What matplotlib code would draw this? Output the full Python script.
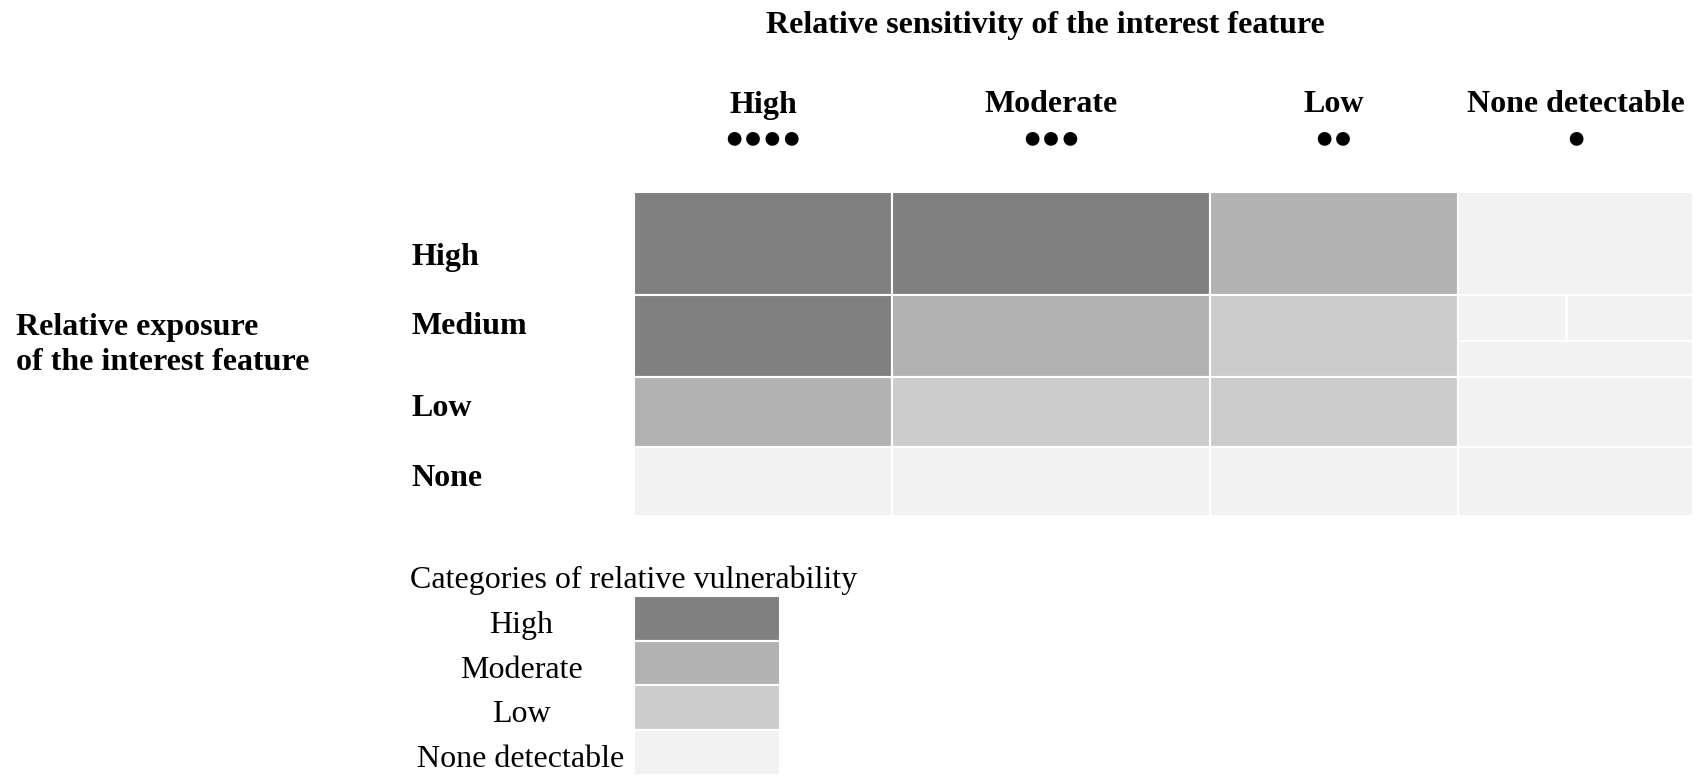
import matplotlib
matplotlib.use("Agg")
import matplotlib.pyplot as plt
from matplotlib.patches import Rectangle

# ---- data ----
exposure_levels = ['High', 'Medium', 'Low', 'None']
sensitivity_levels = ['High', 'Moderate', 'Low', 'None detectable']
sensitivity_dots = ['\u25cf\u25cf\u25cf\u25cf', '\u25cf\u25cf\u25cf', '\u25cf\u25cf', '\u25cf']
categories = ['High', 'Moderate', 'Low', 'None detectable']
category_colors = ['#808080', '#b2b2b2', '#cccccc', '#f2f2f2']
# vulnerability category index for each (exposure row, sensitivity column)
vulnerability = [
    [0, 0, 1, 3],
    [0, 1, 2, 3],
    [1, 2, 2, 3],
    [3, 3, 3, 3],
]

# ---- layout (pixel coordinates) ----
col_edges = [634, 892, 1210, 1458, 1693]
row_edges = [192, 295, 377, 447, 516]
row_label_y = [257, 326, 408, 478]

W, H = 1701, 775
fig = plt.figure(figsize=(W / 100, H / 100), dpi=100)
ax = fig.add_axes([0, 0, 1, 1])
ax.set_xlim(0, W)
ax.set_ylim(H, 0)
ax.axis('off')

serif = ['Liberation Serif', 'DejaVu Serif']
dotfam = ['Liberation Serif', 'DejaVu Sans']
FS = 23

# grid cells
for i in range(len(exposure_levels)):
    for j in range(len(sensitivity_levels)):
        x0, x1 = col_edges[j], col_edges[j + 1]
        y0, y1 = row_edges[i], row_edges[i + 1]
        ax.add_patch(Rectangle((x0, y0), x1 - x0, y1 - y0,
                               facecolor=category_colors[vulnerability[i][j]],
                               edgecolor='white', linewidth=1.5))

# subdivision inside Medium / None detectable cell
ax.plot([col_edges[3], col_edges[4]], [341, 341], color='white', lw=1.5)
ax.plot([1566, 1566], [row_edges[1], 341], color='white', lw=1.8)

# titles
ax.text(1045, 25, 'Relative sensitivity of the interest feature', ha='center', va='center',
        fontsize=FS, fontweight='bold', family=serif)
for j, (lab, dots) in enumerate(zip(sensitivity_levels, sensitivity_dots)):
    cx = (col_edges[j] + col_edges[j + 1]) / 2
    ax.text(cx, 105, lab, ha='center', va='center', fontsize=FS, fontweight='bold', family=serif)
    ax.text(cx, 139.5, dots, ha='center', va='center', fontsize=FS, family=dotfam)

for lab, y in zip(exposure_levels, row_label_y):
    ax.text(411, y, lab, ha='left', va='center', fontsize=FS, fontweight='bold', family=serif)

ax.text(16, 327, 'Relative exposure', ha='left', va='center', fontsize=FS, fontweight='bold', family=serif)
ax.text(16, 363, 'of the interest feature', ha='left', va='center', fontsize=FS, fontweight='bold', family=serif)

# legend
ax.text(410, 580, 'Categories of relative vulnerability', ha='left', va='center', fontsize=FS, family=serif)
leg_top = 596
leg_h = 44.7
for k, (cat, col) in enumerate(zip(categories, category_colors)):
    y0 = leg_top + k * leg_h
    ax.add_patch(Rectangle((634, y0), 146, leg_h, facecolor=col, edgecolor='white', linewidth=1.5))
    ax.text(521, y0 + leg_h / 2 + 7, cat, ha='center', va='center', fontsize=FS, family=serif)

fig.savefig('out.png', dpi=100)
